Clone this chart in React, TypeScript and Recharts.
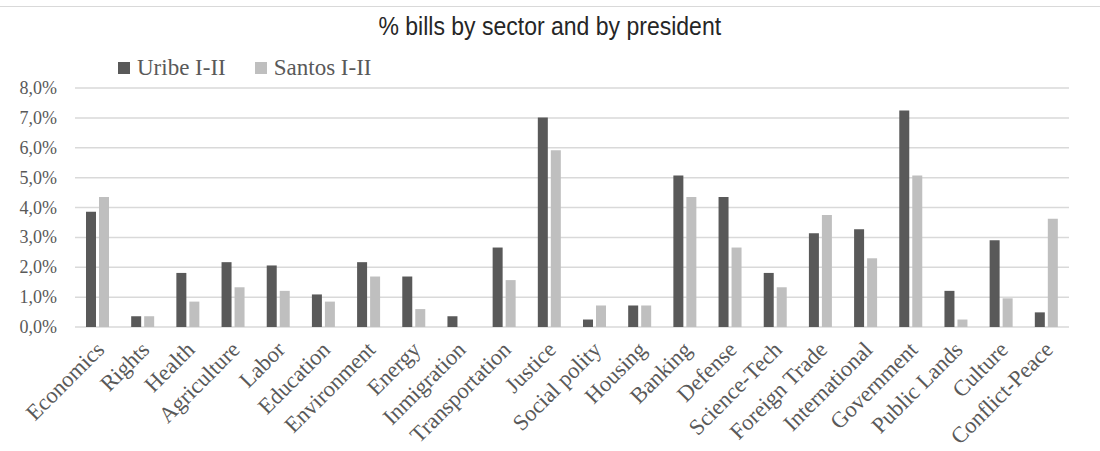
import { BarChart, Bar, XAxis, YAxis, CartesianGrid } from 'recharts'

// % de proyectos por sector
const sectors = [
  'Economics', 'Rights', 'Health', 'Agriculture', 'Labor', 'Education', 'Environment', 'Energy',
  'Inmigration', 'Transportation', 'Justice', 'Social polity', 'Housing', 'Banking', 'Defense',
  'Science-Tech', 'Foreign Trade', 'International', 'Government', 'Public Lands', 'Culture', 'Conflict-Peace'
]
const uribe = [3.86, 0.36, 1.81, 2.17, 2.06, 1.09, 2.17, 1.69, 0.36, 2.66, 7.01, 0.25, 0.72, 5.07, 4.35, 1.81, 3.14, 3.27, 7.25, 1.21, 2.9, 0.49]
const santos = [4.35, 0.36, 0.85, 1.33, 1.21, 0.85, 1.69, 0.6, 0, 1.57, 5.92, 0.72, 0.72, 4.35, 2.66, 1.33, 3.75, 2.3, 5.07, 0.25, 0.96, 3.62]
const yTicks = [0, 1, 2, 3, 4, 5, 6, 7, 8]

const series = [
  { key: 'uribe', name: 'Uribe I-II', color: '#595959' },
  { key: 'santos', name: 'Santos I-II', color: '#bfbfbf' }
]

const data = sectors.map((s, i) => ({ sector: s, uribe: uribe[i], santos: santos[i] }))

const SERIF = "'Liberation Serif', 'Times New Roman', serif"
const SANS = "'Liberation Sans', Arial, sans-serif"

const fmt = (v: number) => `${v.toFixed(1).replace('.', ',')}%`

function YTick(props: any) {
  const { x, y, payload } = props
  return (
    <text x={x - 10} y={y + 6} textAnchor="end" fill="#595959" fontSize={18} fontFamily={SERIF}>
      {fmt(payload.value)}
    </text>
  )
}

function XTick(props: any) {
  const { x, y, payload } = props
  return (
    <g transform={`translate(${x + 8},${y + 16})`}>
      <text transform="rotate(-45)" textAnchor="end" fill="#595959" fontSize={22.5} fontFamily={SERIF}>
        {payload.value}
      </text>
    </g>
  )
}

export default function App() {
  return (
    <div style={{ position: 'absolute', left: 0, top: 0, width: 1100, height: 451, background: '#fff' }}>
      <div style={{ position: 'absolute', left: 0, top: 6, width: 1100, height: 1, background: '#d9d9d9' }} />
      <div
        style={{
          position: 'absolute', left: 0, top: 12, width: 1100, textAlign: 'center',
          fontFamily: SANS, fontSize: 25, color: '#262626', lineHeight: '28px',
          transform: 'scaleX(0.92)', transformOrigin: '547px 0'
        }}
      >
        % bills by sector and by president
      </div>
      <div style={{ position: 'absolute', left: 118, top: 56, display: 'flex', fontFamily: SERIF, fontSize: 23, color: '#595959', lineHeight: '24px' }}>
        {series.map(s => (
          <div key={s.key} style={{ display: 'flex', alignItems: 'center', marginRight: 29 }}>
            <span style={{ display: 'inline-block', width: 12, height: 12, background: s.color, marginRight: 7 }} />
            {s.name}
          </div>
        ))}
      </div>
      <BarChart
        width={1100}
        height={451}
        data={data}
        margin={{ top: 88, right: 31, left: 0, bottom: 0 }}
        barSize={10}
        barGap={3}
      >
        <CartesianGrid vertical={false} stroke="#d9d9d9" strokeWidth={1.5} />
        <XAxis dataKey="sector" height={124} interval={0} axisLine={false} tickLine={false} tick={<XTick />} />
        <YAxis width={75} domain={[0, 8]} ticks={yTicks} axisLine={false} tickLine={false} tick={<YTick />} />
        {series.map(s => (
          <Bar key={s.key} dataKey={s.key} name={s.name} fill={s.color} isAnimationActive={false} />
        ))}
      </BarChart>
    </div>
  )
}
